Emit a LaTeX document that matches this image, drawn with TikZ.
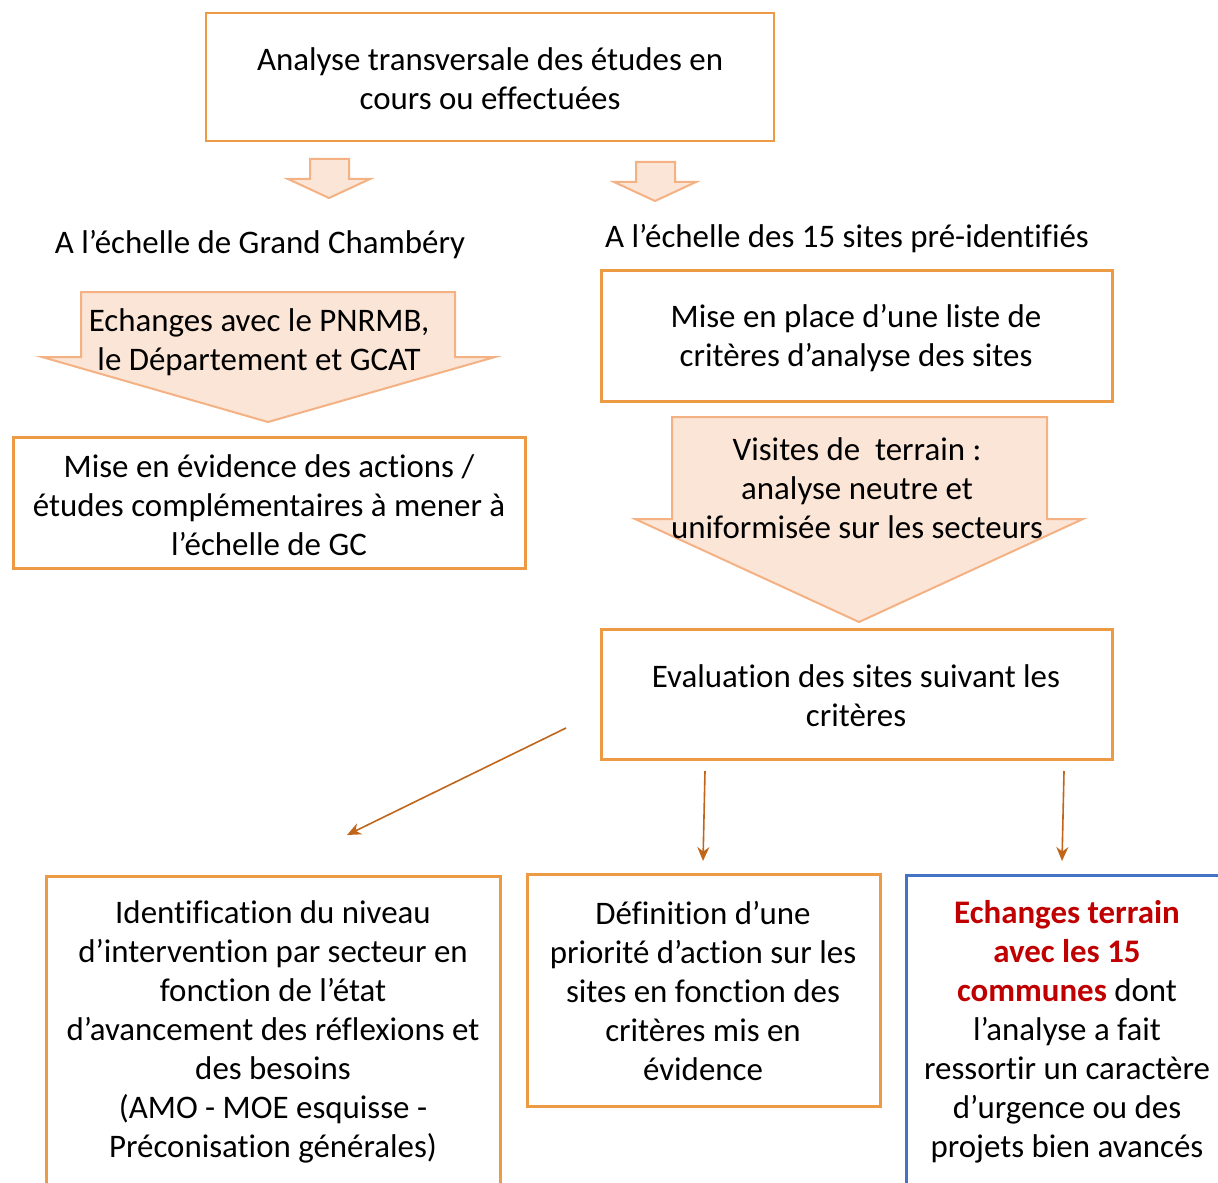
\documentclass[tikz,border=0pt]{standalone}
\usepackage{fontspec}
\setmainfont{Carlito}[Ligatures={NoCommon}]
\usepackage{xcolor}
\usetikzlibrary{arrows.meta}
\definecolor{cadre}{HTML}{ED9A44}
\definecolor{peche}{HTML}{FBE5D6}
\definecolor{bordpeche}{HTML}{F4B183}
\definecolor{brun}{HTML}{C0651A}
\definecolor{bleu}{HTML}{4472C4}
\definecolor{rouge}{HTML}{C00000}
\newcommand{\rouge}[1]{{\color{rouge}\bfseries #1}}

\begin{document}
\begin{tikzpicture}[x=0.5pt,y=-0.5pt,
  boite/.style={draw=cadre,line width=1.5pt},
  texte/.style={align=center,font=\fontsize{16.45}{19.5}\selectfont,inner sep=0pt},
  blocfleche/.style={draw=bordpeche,fill=peche,line width=1pt,line join=miter},
  fleche/.style={draw=brun,line width=0.8pt,-{Stealth[length=7pt,width=6pt]}}]
\useasboundingbox (0,0) rectangle (1218,1182);
\clip (0,0) rectangle (1218,1182);

% cadres
\draw[boite,line width=1pt] (206,13) rectangle (774,141);
\draw[boite] (13,437) rectangle (525,568);
\draw[boite] (601,270) rectangle (1112,401);
\draw[boite] (601,629) rectangle (1112,759);
\draw[boite] (46,876) rectangle (500,1200);
\draw[boite] (527,874) rectangle (880,1106);
\draw[boite,draw=bleu] (906,875) rectangle (1230,1200);

% grosses fleches
\draw[blocfleche] (310,159) -- (349,159) -- (349,179) -- (370,179) -- (329,198)
  -- (288,179) -- (310,179) -- cycle;
\draw[blocfleche] (636,162) -- (675,162) -- (675,182) -- (696,182) -- (655,201)
  -- (614,182) -- (636,182) -- cycle;
\draw[blocfleche] (81,292) -- (455,292) -- (455,357) -- (495,357) -- (268,422)
  -- (42,357) -- (81,357) -- cycle;
\draw[blocfleche] (672,417) -- (1047,417) -- (1047,519) -- (1083,519) -- (859,622)
  -- (635,519) -- (672,519) -- cycle;

% textes
\node[texte] (analyse) at (490,79) {Analyse transversale des études en\\cours ou effectuées};
\node[texte] (gc) at (260,245) {A l’échelle de Grand Chambéry};
\node[texte] (sites) at (847,239) {A l’échelle des 15 sites pré-identifiés};
\node[texte] (echanges) at (259,342) {Echanges avec le PNRMB,\\le Département et GCAT};
\node[texte] (evidence) at (269,505) {Mise en évidence des actions /\\études complémentaires à mener à\\l’échelle de GC};
\node[texte] (liste) at (856,338) {Mise en place d’une liste de\\critères d’analyse des sites};
\node[texte] (visites) at (857,488) {Visites de\ \ terrain :\\analyse neutre et\\uniformisée sur les secteurs};
\node[texte] (evaluation) at (856,696) {Evaluation des sites suivant les\\critères};
\node[texte] (niveau) at (273,1032) {Identification du niveau\\d’intervention par secteur en\\fonction de l’état\\d’avancement des réflexions et\\des besoins\\(AMO - MOE esquisse -\\Préconisation générales)};
\node[texte] (priorite) at (703,991) {Définition d’une\\priorité d’action sur les\\sites en fonction des\\critères mis en\\évidence};
\node[texte] (communes) at (1067,1032) {\rouge{Echanges terrain}\\\rouge{avec les 15}\\\rouge{communes} dont\\l’analyse a fait\\ressortir un caractère\\d’urgence ou des\\projets bien avancés};

% fleches fines
\coordinate (d1) at (566,728);
\coordinate (a1) at (347,835);
\coordinate (d2) at (705,771);
\coordinate (a2) at (703,861);
\coordinate (d3) at (1064,771);
\coordinate (a3) at (1062,861);
\draw[fleche] (d1) -- (a1);
\draw[fleche] (d2) -- (a2);
\draw[fleche] (d3) -- (a3);
\end{tikzpicture}
\end{document}
